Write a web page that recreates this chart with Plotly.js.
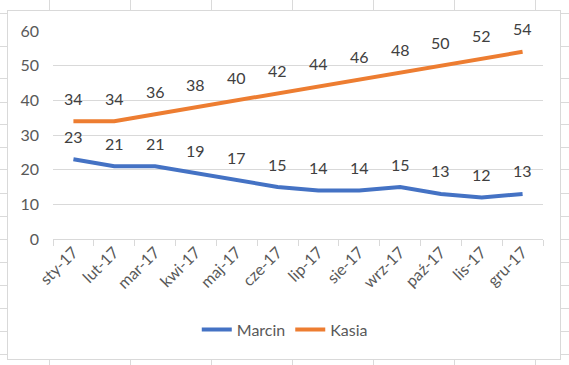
<!DOCTYPE html>
<html>
<head>
<meta charset="utf-8">
<script src="https://cdn.plot.ly/plotly-3.0.1.min.js"></script>
<style>
html,body{margin:0;padding:0;background:#fff;}
#wrap{position:relative;width:569px;height:365px;overflow:hidden;}
#bg{position:absolute;left:0;top:0;}
#box{position:absolute;left:7px;top:10px;width:552px;height:348px;border:1px solid #d9d9d9;background:#fff;}
#chart{position:absolute;left:0;top:0;width:569px;height:365px;}
</style>
</head>
<body>
<div id="wrap">
<svg id="bg" width="569" height="365"></svg>
<div id="box"></div>
<div id="chart"></div>
</div>
<script>
// Data
var months = ['sty-17','lut-17','mar-17','kwi-17','maj-17','cze-17','lip-17','sie-17','wrz-17','paź-17','lis-17','gru-17'];
var marcin = [23,21,21,19,17,15,14,14,15,13,12,13];
var kasia = [34,34,36,38,40,42,44,46,48,50,52,54];
var yTicks = [0,10,20,30,40,50,60];

// Spreadsheet cell grid behind the chart (decoration)
var svg = document.getElementById('bg');
var rows = [13,46,78,102,124,147,169,193,216,239,262,285,308,331,354];
var cols = [49,130,211,292,373,454,535];
var s = '';
rows.forEach(function(r){ s += '<line x1="0" x2="569" y1="'+(r+0.5)+'" y2="'+(r+0.5)+'" stroke="#dadada" stroke-width="1"/>'; });
cols.forEach(function(c){ s += '<line y1="0" y2="365" x1="'+(c+0.5)+'" x2="'+(c+0.5)+'" stroke="#dadada" stroke-width="1"/>'; });
svg.innerHTML = s;

var font = 'Lato, "Open Sans", sans-serif';

var traces = [
  {x: months, y: marcin, name: 'Marcin', type: 'scatter', mode: 'lines',
   line: {color: '#4472C4', width: 4}},
  {x: months, y: kasia, name: 'Kasia', type: 'scatter', mode: 'lines',
   line: {color: '#ED7D31', width: 4}}
];

var annotations = [];
[marcin, kasia].forEach(function(series){
  series.forEach(function(v, i){
    annotations.push({x: months[i], y: v, text: String(v), showarrow: false,
      xref: 'x', yref: 'y', yanchor: 'middle', yshift: 23,
      font: {family: font, size: 16, color: '#404040'}});
  });
});

var layout = {
  width: 569, height: 365,
  margin: {l: 53, r: 26, t: 31, b: 126},
  paper_bgcolor: 'rgba(0,0,0,0)',
  plot_bgcolor: 'rgba(0,0,0,0)',
  font: {family: font, color: '#595959', size: 16},
  showlegend: true,
  legend: {orientation: 'h', x: 0.473, xanchor: 'center', y: -0.435, yanchor: 'middle',
    font: {family: font, size: 16, color: '#595959'}, bgcolor: 'rgba(0,0,0,0)'},
  xaxis: {type: 'category', range: [-0.5, 11.5], tickangle: -45,
    showgrid: false, zeroline: false, showline: false,
    ticks: 'outside', ticklen: 6, tickcolor: '#d9d9d9', tickson: 'boundaries',
    tickfont: {family: font, size: 16, color: '#595959'}, fixedrange: true},
  yaxis: {range: [0, 60], tickvals: yTicks, ticktext: yTicks.map(String),
    showgrid: true, gridcolor: '#d9d9d9', gridwidth: 1,
    zeroline: true, zerolinecolor: '#d9d9d9', zerolinewidth: 1,
    showline: false, ticks: '', ticklabelstandoff: 13,
    tickfont: {family: font, size: 16, color: '#595959'}, fixedrange: true},
  annotations: annotations
};

Plotly.newPlot('chart', traces, layout, {displayModeBar: false, staticPlot: true});
</script>
</body>
</html>
